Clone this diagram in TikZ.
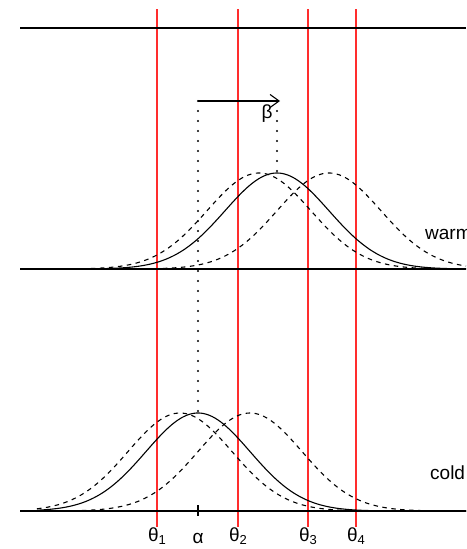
\documentclass[tikz,border=0pt]{standalone}
\usepackage{fontspec}
\setmainfont{Liberation Sans}
\usepackage{xcolor}
\definecolor{thred}{RGB}{255,45,45}
\usetikzlibrary{arrows.meta, positioning}
\newcommand{\thsub}[1]{\raisebox{-0.3ex}{\fontsize{13}{13}\selectfont #1}}

\begin{document}
\begin{tikzpicture}[
  x=1pt, y=-1pt,
  axis/.style={black, line width=1.1pt},
  cut/.style={thred, line width=1.3pt},
  dens/.style={black, line width=1.1pt, domain=37:466, samples=160, smooth},
  shifted/.style={dens, dash pattern=on 4.5pt off 4.5pt},
  guide/.style={black, line width=2.4pt, line cap=round, dash pattern=on 0pt off 10pt},
  lab/.style={font=\fontsize{19}{22}\selectfont, inner sep=0pt},
  >={Straight Barb[length=9pt,width=13pt]}
]
\useasboundingbox (0,0) rectangle (466,549);
\clip (0,0) rectangle (466,549);

% --- Thresholds ---
\draw[cut] (157,9) -- (157,527);
\draw[cut] (238,9) -- (238,527);
\draw[cut] (308,9) -- (308,527);
\draw[cut] (356,9) -- (356,527);

% --- Baselines ---
\draw[axis] (20,28) -- (466,28);
\draw[axis] (20,269) -- (466,269);
\draw[axis] (20,511) -- (466,511);

% --- Warm densities ---
\draw[dens] plot (\x, {269 - 96*exp(-0.5*((\x-277)/52)^2)});
\draw[shifted] plot (\x, {269 - 96*exp(-0.5*((\x-259)/52)^2)});
\draw[shifted] plot (\x, {269 - 96*exp(-0.5*((\x-329)/52)^2)});

% --- Cold densities ---
\draw[dens] plot (\x, {511 - 98*exp(-0.5*((\x-198)/52)^2)});
\draw[shifted] plot (\x, {511 - 98*exp(-0.5*((\x-180)/52)^2)});
\draw[shifted] plot (\x, {511 - 98*exp(-0.5*((\x-250)/52)^2)});

% Peaks and shift
\coordinate (coldpeak) at (198,413);
\coordinate (warmpeak) at (277,173);
\coordinate (shiftstart) at (198,101);
\coordinate (shiftend) at (280,101);
\coordinate (shifttop) at (277,101);

\draw[guide] (shiftstart) -- (coldpeak);
\draw[guide] (shifttop) -- (warmpeak);
\draw[->, black, line width=1.1pt] (shiftstart) -- (shiftend);
\node[lab, anchor=base] (beta) at (267,118) {β};

% --- Condition labels ---
\node[lab, anchor=base west] (warm) at (425,239) {warm};
\node[lab, anchor=base west] (cold) at (430,479) {cold};

% --- Axis labels ---
\draw[axis] (198,505) -- (198,516);
\node[lab, anchor=base] (th1) at (157,541) {θ\thsub{1}};
\node[lab, anchor=base] (alpha) at (198,543) {α};
\node[lab, anchor=base] (th2) at (238,541) {θ\thsub{2}};
\node[lab, anchor=base] (th3) at (308,541) {θ\thsub{3}};
\node[lab, anchor=base] (th4) at (356,541) {θ\thsub{4}};

\end{tikzpicture}
\end{document}
